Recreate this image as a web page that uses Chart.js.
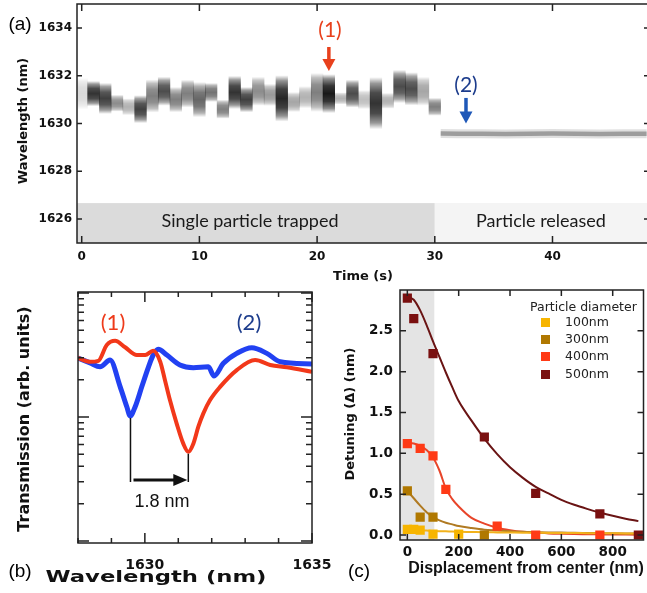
<!DOCTYPE html>
<html><head><meta charset="utf-8">
<script src="https://cdn.jsdelivr.net/npm/chart.js@4.4.1/dist/chart.umd.min.js"></script>
<style>
html,body{margin:0;padding:0;background:#fff;width:647px;height:593px;overflow:hidden;position:relative;}
canvas{position:absolute;}
.t{position:absolute;white-space:nowrap;line-height:1;transform:translate(-50%,-50%);}
.r{transform:translate(-50%,-50%) rotate(-90deg);}
.ab{font-family:"DejaVu Sans";font-weight:bold;color:#111;}
.gs{font-family:Lato,"Open Sans";}
.lg{position:absolute;font-family:"DejaVu Sans";font-size:12.5px;color:#222;white-space:nowrap;line-height:1;}
.sw{position:absolute;width:9px;height:9px;}
</style></head><body>
<canvas id="ca" width="650" height="270" style="left:0;top:0"></canvas>
<canvas id="cb" width="345" height="300" style="left:0;top:280px"></canvas>
<canvas id="cc" width="320" height="300" style="left:330px;top:280px"></canvas>

<div class="t" style="left:20px;top:23px;font-family:'Liberation Sans';font-size:19px;">(a)</div>
<div class="t r ab" style="left:22px;top:121px;font-size:13px;">Wavelength (nm)</div>
<div class="t ab" style="left:363px;top:275px;font-size:13px;">Time (s)</div>
<div class="t gs" style="left:250px;top:220px;font-size:18px;color:#1a1a1a;">Single particle trapped</div>
<div class="t gs" style="left:541px;top:220px;font-size:18px;color:#1a1a1a;">Particle released</div>
<div class="t gs" style="left:330px;top:28px;font-size:21px;color:#e8401c;">(1)</div>
<div class="t gs" style="left:466px;top:83px;font-size:21px;color:#1c3c8c;">(2)</div>

<div class="t gs" style="left:113px;top:322px;font-size:22px;color:#ee3a1a;">(1)</div>
<div class="t gs" style="left:249px;top:322px;font-size:22px;color:#1c3c8c;">(2)</div>
<div class="t" style="left:162px;top:501px;font-family:'Liberation Sans';font-size:18px;color:#111;">1.8 nm</div>
<div class="t r ab" style="left:24px;top:419px;font-size:16px;">Transmission (arb. units)</div>
<div class="t ab" style="left:156px;top:577px;font-size:16px;transform:translate(-50%,-50%) scaleX(1.42);">Wavelength (nm)</div>
<div class="t" style="left:20px;top:570px;font-family:'Liberation Sans';font-size:19px;">(b)</div>

<div class="t r ab" style="left:349px;top:414px;font-size:13px;">Detuning (Δ) (nm)</div>
<div class="t" style="left:526px;top:568px;font-family:'Liberation Sans';font-weight:bold;font-size:16px;color:#111;">Displacement from center (nm)</div>
<div class="t" style="left:359px;top:570px;font-family:'Liberation Sans';font-size:19px;">(c)</div>
<div class="lg" style="left:530px;top:301px;">Particle diameter</div>
<div id="legend"></div>

<script>
// ---------------- Panel (a): spectrogram ----------------
const heatTimes = [0,1,2,3,4,5,6,7,8,9,10,11,12,13,14,15,16,17,18,19,20,21,22,23,24,25,26,27,28,29,30];
const heatCenters = [1631.25,1631.25,1631.05,1630.85,1630.70,1630.60,1631.15,1631.35,1631.00,1631.25,1631.00,1631.30,1630.60,1631.30,1631.00,1631.35,1631.20,1631.05,1630.90,1631.10,1631.30,1631.25,1631.05,1631.25,1631.00,1630.85,1630.95,1631.55,1631.45,1631.35,1630.70];
const heatLevels = [0.15,0.8,0.75,0.45,0.3,0.75,0.5,0.7,0.5,0.5,0.6,0.55,0.5,0.8,0.75,0.45,0.4,0.85,0.35,0.3,0.5,0.9,0.3,0.7,0.25,0.8,0.3,0.7,0.7,0.35,0.5];
const heatSpreads = [0.6,0.48,0.59,0.32,0.32,0.53,0.63,0.55,0.48,0.53,0.67,0.36,0.36,0.63,0.48,0.55,0.42,0.88,0.38,0.42,0.74,0.74,0.23,0.53,0.36,0.99,0.3,0.63,0.63,0.55,0.34];
const releaseTimes = [30.5,32,34,36,38,40,42,44,46,48];
const releaseCenters = [1629.58,1629.57,1629.57,1629.56,1629.57,1629.58,1629.57,1629.56,1629.57,1629.57];
const timeTicks = [0,10,20,30,40];
const wavelengthTicksA = [1626,1628,1630,1632,1634];
const trappedUntil = 30;      // s
const labelBandTop = 1626.67; // nm
const arrow1 = {t:21.0, from:1633.2, to:1632.2};
const arrow2 = {t:32.65, from:1631.07, to:1630.0};

// ---------------- Panel (b): transmission spectra ----------------
const blueWl = [1628.00,1628.36,1628.66,1628.96,1629.26,1629.46,1629.56,1629.71,1629.91,1630.11,1630.25,1630.40,1630.66,1631.05,1631.45,1631.90,1632.07,1632.35,1632.75,1633.20,1633.65,1634.05,1635.00];
const blueT  = [2.99,2.73,2.54,2.88,1.76,1.21,1.02,1.21,1.76,2.54,3.16,3.52,3.16,2.63,2.50,2.54,2.14,2.71,3.26,3.62,3.26,2.79,2.68];
const redWl  = [1628.00,1628.36,1628.61,1628.86,1629.11,1629.41,1629.76,1630.01,1630.25,1630.46,1630.60,1630.75,1630.95,1631.15,1631.30,1631.45,1631.60,1631.75,1631.95,1632.25,1632.75,1633.30,1633.75,1634.25,1635.00];
const redT   = [2.99,2.79,2.84,3.81,4.12,3.65,3.16,3.16,3.42,2.79,1.99,1.37,0.89,0.61,0.525,0.61,0.835,1.07,1.37,1.75,2.39,2.88,2.63,2.52,2.32];
const wlTicksB = [1628,1629,1630,1631,1632,1633,1634,1635];
const wlLabelsB = [1630,1635];
const logTicksB = [0.1,0.2,0.3,0.4,0.5,0.6,0.7,0.8,0.9,1,2,3,4,5,6,7,8,9,10];
const logMajorB = [0.1,1,10];
const dipBlue = {wl:1629.57, t:1.02};
const dipRed  = {wl:1631.30, t:0.525};
const shiftArrowT = 0.31;

// ---------------- Panel (c): detuning vs displacement ----------------
const sizes = ['100nm','300nm','400nm','500nm'];
const disp100 = [0,25,50,100,200];            const det100 = [0.07,0.07,0.06,0.01,0.01];
const disp300 = [0,50,100,300];               const det300 = [0.54,0.22,0.22,0.0];
const disp400 = [0,50,100,150,350,500,750];   const det400 = [1.12,1.06,0.97,0.56,0.11,0.0,0.0];
const disp500 = [0,25,100,300,500,750,900];   const det500 = [2.90,2.65,2.22,1.20,0.51,0.26,0.0];
const fitX    = [0,25,50,75,100,125,150,175,200,250,300,350,400,450,500,550,600,650,700,750,800,850,900];
const fit100  = [0.065,0.063,0.06,0.055,0.05,0.047,0.045,0.042,0.04,0.037,0.034,0.032,0.03,0.028,0.027,0.026,0.025,0.024,0.023,0.022,0.021,0.02,0.02];
const fit300  = [0.54,0.45,0.36,0.28,0.22,0.18,0.15,0.13,0.11,0.085,0.065,0.055,0.045,0.04,0.035,0.032,0.03,0.027,0.025,0.023,0.021,0.02,0.02];
const fit400  = [1.13,1.12,1.09,1.04,0.95,0.79,0.57,0.44,0.35,0.21,0.14,0.09,0.06,0.04,0.03,0.02,0.015,0.012,0.01,0.008,0.006,0.005,0.004];
const fit500  = [2.92,2.88,2.75,2.57,2.37,2.18,1.99,1.81,1.64,1.40,1.18,0.99,0.83,0.70,0.59,0.51,0.43,0.37,0.32,0.275,0.235,0.20,0.17];
const dispTicks = [0,200,400,600,800];
const detTicks = [0,0.5,1,1.5,2,2.5];
const centerZone = 105; // nm, shaded

const markerColors = ['#f7b500','#b07800','#ff3a16','#7a1010'];
const fitColors    = ['#f2b21c','#b07a22','#e8452a','#6a1414'];

// ---------- helpers ----------
Chart.defaults.animation = false;
function fixW(w){ return (s)=>{ s.width=w; s.paddingTop=0; s.paddingBottom=0; s.paddingLeft=0; s.paddingRight=0; }; }
function fixH(h){ return (s)=>{ s.height=h; s.paddingTop=0; s.paddingBottom=0; s.paddingLeft=0; s.paddingRight=0; }; }
function frame(o){
  return {id:'frame', afterDraw(chart){
    const {ctx, chartArea:a, scales} = chart; const xs=scales.x, ys=scales.y;
    ctx.save();
    ctx.strokeStyle=o.color; ctx.lineWidth=o.lw;
    ctx.strokeRect(a.left, a.top, a.right-a.left, a.bottom-a.top);
    ctx.lineWidth=o.tw; ctx.beginPath();
    for(const t of xs.ticks){
      const p=xs.getPixelForValue(t.value);
      if(p<a.left-1||p>a.right+1) continue;
      const L=(o.xLongVals||[]).includes(t.value)?o.xLong:o.xLen;
      ctx.moveTo(p,a.bottom); ctx.lineTo(p,a.bottom-L);
      ctx.moveTo(p,a.top); ctx.lineTo(p,a.top+L);
    }
    for(const t of ys.ticks){
      const p=ys.getPixelForValue(t.value);
      if(p<a.top-1||p>a.bottom+1) continue;
      const L=(o.yLongVals||[]).includes(t.value)?o.yLong:o.yLen;
      ctx.moveTo(a.left,p); ctx.lineTo(a.left+L,p);
      ctx.moveTo(a.right,p); ctx.lineTo(a.right-L,p);
    }
    ctx.stroke(); ctx.restore();
  }};
}
function downArrow(ctx,x,y0,y1,color){
  ctx.save(); ctx.strokeStyle=color; ctx.fillStyle=color; ctx.lineWidth=3.5;
  ctx.beginPath(); ctx.moveTo(x,y0); ctx.lineTo(x,y1-10); ctx.stroke();
  ctx.beginPath(); ctx.moveTo(x-6.5,y1-12); ctx.lineTo(x+6.5,y1-12); ctx.lineTo(x,y1); ctx.closePath(); ctx.fill();
  ctx.restore();
}

// ---------- Chart (a) ----------
const heatData = heatTimes.map((t,i)=>({x:t, y:[heatCenters[i]-heatSpreads[i]*1.1, heatCenters[i]+heatSpreads[i]*1.1]}));
const releaseData = releaseTimes.map((t,i)=>({x:t, y:releaseCenters[i]}));
const tickFontA = {family:'DejaVu Sans', weight:'bold', size:12};
new Chart(document.getElementById('ca'), {
  type:'bar',
  data:{datasets:[{
    label:'trapped',
    data:heatData, borderWidth:0, barPercentage:1, categoryPercentage:1, inflateAmount:0.25,
    backgroundColor:(c)=>{
      const ch=c.chart, ys=ch.scales.y;
      if(c.type!=='data'||!ys) return 'rgba(0,0,0,0)';
      const r=c.raw; const top=ys.getPixelForValue(r.y[1]), bot=ys.getPixelForValue(r.y[0]);
      if(!isFinite(top)||!isFinite(bot)||top===bot) return 'rgba(0,0,0,0.3)';
      const a=heatLevels[c.dataIndex];
      const g=ch.ctx.createLinearGradient(0,top,0,bot);
      g.addColorStop(0,'rgba(0,0,0,0)');
      g.addColorStop(0.12,`rgba(0,0,0,${(a*0.5).toFixed(3)})`);
      g.addColorStop(0.3,`rgba(0,0,0,${(a*0.88).toFixed(3)})`);
      g.addColorStop(0.5,`rgba(0,0,0,${a})`);
      g.addColorStop(0.7,`rgba(0,0,0,${(a*0.88).toFixed(3)})`);
      g.addColorStop(0.88,`rgba(0,0,0,${(a*0.5).toFixed(3)})`);
      g.addColorStop(1,'rgba(0,0,0,0)');
      return g;
    }
  },{
    type:'line', label:'released halo', data:releaseData, borderColor:'rgba(0,0,0,0.12)', borderWidth:9, pointRadius:0, tension:0, borderCapStyle:'butt'
  },{
    type:'line', label:'released', data:releaseData, borderColor:'rgba(0,0,0,0.3)', borderWidth:4.5, pointRadius:0, tension:0, borderCapStyle:'butt'
  }]},
  options:{
    responsive:false, animation:false,
    layout:{padding:{left:0,top:4,right:1,bottom:0}},
    plugins:{legend:{display:false}, tooltip:{enabled:false}},
    scales:{
      x:{type:'linear', min:-0.4, max:48.2, offset:false,
         afterBuildTicks:(s)=>{s.ticks=timeTicks.map(v=>({value:v}));},
         afterFit:fixH(27),
         grid:{display:false, drawTicks:false}, border:{display:false},
         ticks:{font:tickFontA, color:'#111', padding:7, maxRotation:0, autoSkip:false, callback:(v)=>String(v)}},
      y:{min:1625, max:1635,
         afterBuildTicks:(s)=>{s.ticks=wavelengthTicksA.map(v=>({value:v}));},
         afterFit:fixW(77),
         grid:{display:false, drawTicks:false}, border:{display:false},
         ticks:{font:tickFontA, color:'#111', padding:5, callback:(v)=>String(v)}}
    }
  },
  plugins:[{
    id:'bandsA',
    beforeDatasetsDraw(chart){
      const {ctx, chartArea:a, scales:{x,y}} = chart;
      const yTop=y.getPixelForValue(labelBandTop), xs=x.getPixelForValue(trappedUntil);
      ctx.save();
      ctx.fillStyle='#dbdbdb'; ctx.fillRect(a.left,yTop,xs-a.left,a.bottom-yTop);
      ctx.fillStyle='#f4f4f4'; ctx.fillRect(xs,yTop,a.right-xs,a.bottom-yTop);
      ctx.restore();
    },
    afterDatasetsDraw(chart){
      const {ctx, scales:{x,y}} = chart;
      downArrow(ctx, x.getPixelForValue(arrow1.t), y.getPixelForValue(arrow1.from), y.getPixelForValue(arrow1.to), '#e8401c');
      downArrow(ctx, x.getPixelForValue(arrow2.t), y.getPixelForValue(arrow2.from), y.getPixelForValue(arrow2.to), '#1f58b8');
    }
  }, frame({color:'#222', lw:1.5, tw:1.5, xLen:7, yLen:5})]
});

// ---------- Chart (b) ----------
const tickFontB = {family:'DejaVu Sans', weight:'bold', size:14};
new Chart(document.getElementById('cb'), {
  type:'line',
  data:{datasets:[
    {label:'(1)', data:redWl.map((w,i)=>({x:w,y:redT[i]})), borderColor:'#f2381a', borderWidth:4, pointRadius:0, cubicInterpolationMode:'monotone', fill:false},
    {label:'(2)', data:blueWl.map((w,i)=>({x:w,y:blueT[i]})), borderColor:'#2241f2', borderWidth:5, pointRadius:0, cubicInterpolationMode:'monotone', fill:false}
  ]},
  options:{
    responsive:false, animation:false,
    layout:{padding:{left:0,top:12,right:33,bottom:0}},
    plugins:{legend:{display:false}, tooltip:{enabled:false}},
    scales:{
      x:{type:'linear', min:1628, max:1635,
         afterBuildTicks:(s)=>{s.ticks=wlTicksB.map(v=>({value:v}));},
         afterFit:fixH(37),
         grid:{display:false, drawTicks:false}, border:{display:false},
         ticks:{font:tickFontB, color:'#111', padding:14, maxRotation:0, autoSkip:false,
                callback:(v)=>wlLabelsB.includes(v)?String(v):''}},
      y:{type:'logarithmic', min:0.0964, max:10.19,
         afterBuildTicks:(s)=>{s.ticks=logTicksB.map(v=>({value:v}));},
         afterFit:fixW(78),
         grid:{display:false, drawTicks:false}, border:{display:false},
         ticks:{display:false}}
    }
  },
  plugins:[{
    id:'shiftB',
    afterDatasetsDraw(chart){
      const {ctx, scales:{x,y}} = chart;
      const xb=x.getPixelForValue(dipBlue.wl), xr=x.getPixelForValue(dipRed.wl), ya=y.getPixelForValue(shiftArrowT);
      ctx.save(); ctx.strokeStyle='#111'; ctx.fillStyle='#111'; ctx.lineWidth=1.5;
      ctx.beginPath();
      ctx.moveTo(xb,y.getPixelForValue(dipBlue.t)+2); ctx.lineTo(xb,ya+2);
      ctx.moveTo(xr,y.getPixelForValue(dipRed.t)+2); ctx.lineTo(xr,ya+2);
      ctx.stroke();
      ctx.lineWidth=3; ctx.beginPath(); ctx.moveTo(xb+3,ya); ctx.lineTo(xr-12,ya); ctx.stroke();
      ctx.beginPath(); ctx.moveTo(xr-1,ya); ctx.lineTo(xr-15,ya-6); ctx.lineTo(xr-15,ya+6); ctx.closePath(); ctx.fill();
      ctx.restore();
    }
  }, frame({color:'#222', lw:1.5, tw:1.5, xLen:5, xLong:10, xLongVals:wlLabelsB, yLen:6, yLong:11, yLongVals:logMajorB})]
});

// ---------- Chart (c) ----------
const tickFontC = {family:'DejaVu Sans', weight:'bold', size:13.5};
const ptsX = [disp100,disp300,disp400,disp500], ptsY=[det100,det300,det400,det500], fits=[fit100,fit300,fit400,fit500];
const dsC = [];
fits.forEach((f,k)=>dsC.push({label:sizes[k]+' fit', data:fitX.map((x,i)=>({x, y:f[i]})), showLine:true, borderColor:fitColors[k], borderWidth:2, pointRadius:0, cubicInterpolationMode:'monotone', order:2}));
ptsX.forEach((xs,k)=>dsC.push({label:sizes[k], data:xs.map((x,i)=>({x, y:ptsY[k][i]})), pointStyle:'rect', pointRadius:6.5, backgroundColor:markerColors[k], borderColor:markerColors[k], borderWidth:0, showLine:false, order:1}));
new Chart(document.getElementById('cc'), {
  type:'scatter',
  data:{datasets:dsC},
  options:{
    responsive:false, animation:false,
    layout:{padding:{left:0,top:10,right:1,bottom:0}},
    plugins:{legend:{display:false}, tooltip:{enabled:false}},
    scales:{
      x:{type:'linear', min:-28.6, max:920,
         afterBuildTicks:(s)=>{s.ticks=dispTicks.map(v=>({value:v}));},
         afterFit:fixH(40),
         grid:{display:false, drawTicks:false}, border:{display:false},
         ticks:{font:tickFontC, color:'#111', padding:4, maxRotation:0, autoSkip:false, callback:(v)=>String(v)}},
      y:{type:'linear', min:-0.061, max:3.0,
         afterBuildTicks:(s)=>{s.ticks=detTicks.map(v=>({value:v}));},
         afterFit:fixW(70),
         grid:{display:false, drawTicks:false}, border:{display:false},
         ticks:{font:tickFontC, color:'#111', padding:7, callback:(v)=>Number(v).toFixed(1)}}
    }
  },
  plugins:[{
    id:'zoneC',
    beforeDatasetsDraw(chart){
      const {ctx, chartArea:a, scales:{x}} = chart;
      const xe=x.getPixelForValue(centerZone);
      ctx.save(); ctx.fillStyle='#e4e4e4'; ctx.fillRect(a.left,a.top,xe-a.left,a.bottom-a.top); ctx.restore();
    }
  }, frame({color:'#222', lw:1.5, tw:1.5, xLen:6, yLen:6})]
});

// legend (c)
const lg=document.getElementById('legend');
sizes.forEach((s,k)=>{
  const yc=322+k*17.4;
  const sw=document.createElement('div'); sw.className='sw'; sw.style.left='541px'; sw.style.top=(yc-4.5)+'px'; sw.style.background=markerColors[k]; lg.appendChild(sw);
  const tx=document.createElement('div'); tx.className='lg'; tx.style.left='565px'; tx.style.top=(yc-6.5)+'px'; tx.textContent=s; lg.appendChild(tx);
});
</script>
</body></html>
